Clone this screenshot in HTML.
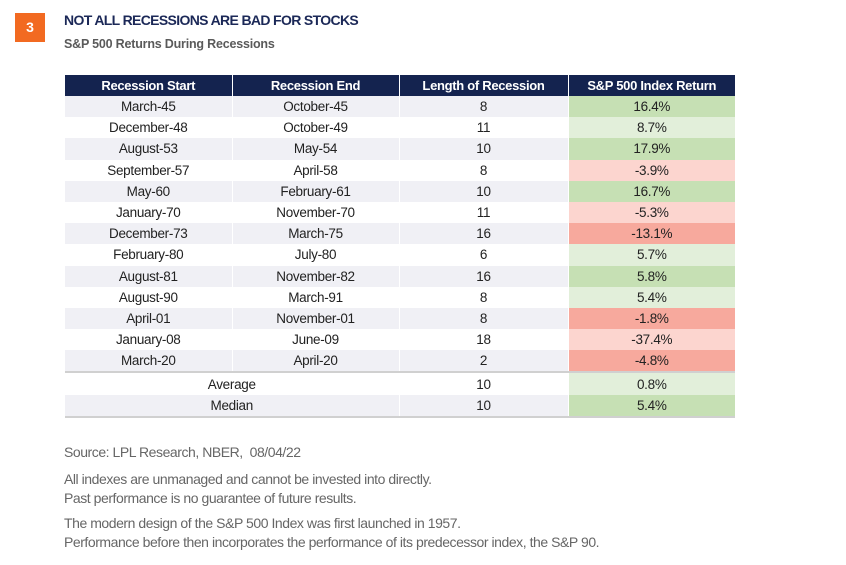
<!DOCTYPE html>
<html><head><meta charset="utf-8"><style>
body{margin:0;width:846px;height:565px;background:#fff;font-family:"Liberation Sans",sans-serif;position:relative;overflow:hidden}
.badge{position:absolute;left:15px;top:13px;width:30px;height:29px;background:#f26a21;color:#fff;font-weight:bold;font-size:14px;text-align:center;line-height:29px}
.title{position:absolute;left:64px;top:12px;font-size:14px;font-weight:bold;color:#1b2857;letter-spacing:-0.65px}
.sub{position:absolute;left:64px;top:37px;font-size:12.5px;font-weight:bold;color:#5a5a5a;letter-spacing:-0.2px}
table{position:absolute;left:65px;top:75px;width:670px;border-collapse:collapse;font-size:13.5px;color:#222;letter-spacing:-0.3px}
th{background:#14234f;color:#fff;font-weight:bold;height:21px;padding:0;border-left:1px solid #fff;font-size:13px}
th:first-child{border-left:none}
td{height:21.2px;padding:0;text-align:center;border-left:1px solid #fff}
td:first-child{border-left:none}
tr.g td{background:#f0f0f5}
td.dg{background:#c6e0b4!important}
td.lg{background:#e2efda!important}
td.lr{background:#fcd5cf!important}
td.sr{background:#f7a99d!important}
tr.avg td{border-top:2px solid #d0d0d0}
tr.last td{border-bottom:2px solid #d0d0d0}
.foot{position:absolute;left:64px;font-size:14px;color:#666;letter-spacing:-0.45px;line-height:19px}
</style></head><body>
<div class="badge">3</div>
<div class="title">NOT ALL RECESSIONS ARE BAD FOR STOCKS</div>
<div class="sub">S&amp;P 500 Returns During Recessions</div>
<table>
<colgroup><col style="width:167px"><col style="width:167px"><col style="width:169px"><col style="width:167px"></colgroup>
<tr><th>Recession Start</th><th>Recession End</th><th>Length of Recession</th><th>S&amp;P 500 Index Return</th></tr>
<tr class="g"><td>March-45</td><td>October-45</td><td>8</td><td class="dg">16.4%</td></tr>
<tr><td>December-48</td><td>October-49</td><td>11</td><td class="lg">8.7%</td></tr>
<tr class="g"><td>August-53</td><td>May-54</td><td>10</td><td class="dg">17.9%</td></tr>
<tr><td>September-57</td><td>April-58</td><td>8</td><td class="lr">-3.9%</td></tr>
<tr class="g"><td>May-60</td><td>February-61</td><td>10</td><td class="dg">16.7%</td></tr>
<tr><td>January-70</td><td>November-70</td><td>11</td><td class="lr">-5.3%</td></tr>
<tr class="g"><td>December-73</td><td>March-75</td><td>16</td><td class="sr">-13.1%</td></tr>
<tr><td>February-80</td><td>July-80</td><td>6</td><td class="lg">5.7%</td></tr>
<tr class="g"><td>August-81</td><td>November-82</td><td>16</td><td class="dg">5.8%</td></tr>
<tr><td>August-90</td><td>March-91</td><td>8</td><td class="lg">5.4%</td></tr>
<tr class="g"><td>April-01</td><td>November-01</td><td>8</td><td class="sr">-1.8%</td></tr>
<tr><td>January-08</td><td>June-09</td><td>18</td><td class="lr">-37.4%</td></tr>
<tr class="g"><td>March-20</td><td>April-20</td><td>2</td><td class="sr">-4.8%</td></tr>
<tr class="avg"><td colspan="2">Average</td><td>10</td><td class="lg">0.8%</td></tr>
<tr class="g last"><td colspan="2">Median</td><td>10</td><td class="dg">5.4%</td></tr>
</table>
<div class="foot" style="top:443px">Source: LPL Research, NBER,&nbsp; 08/04/22</div>
<div class="foot" style="top:470px">All indexes are unmanaged and cannot be invested into directly.<br>Past performance is no guarantee of future results.</div>
<div class="foot" style="top:514px">The modern design of the S&amp;P 500 Index was first launched in 1957.<br>Performance before then incorporates the performance of its predecessor index, the S&amp;P 90.</div>
</body></html>
